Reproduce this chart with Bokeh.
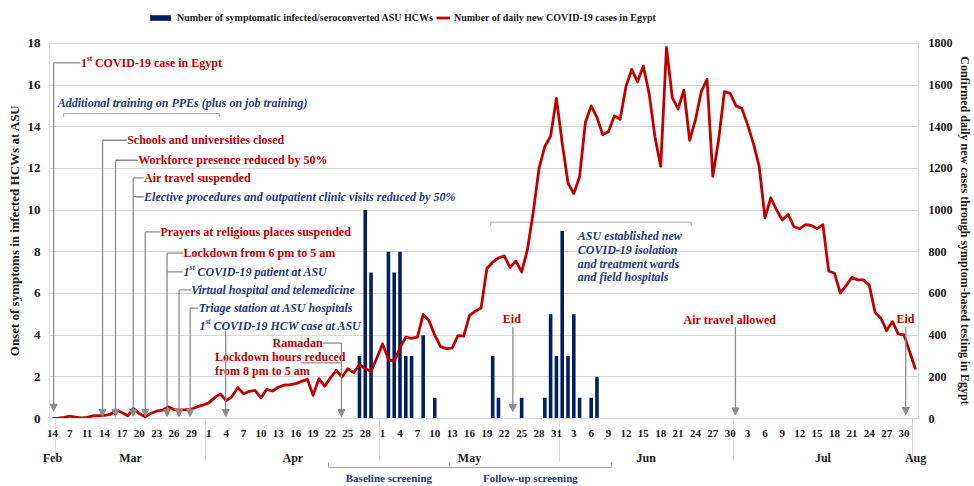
import pandas as pd
from bokeh.plotting import figure
from bokeh.models import (ColumnDataSource, Range1d, LinearAxis, FixedTicker, Legend,
                          LegendItem, Arrow, NormalHead)
from bokeh.core.properties import value
from bokeh.embed import file_html
from bokeh.resources import INLINE

# ---------------- data ----------------
first_dates = ["2020-02-14", "2020-03-01", "2020-03-06", "2020-03-07", "2020-03-08", "2020-03-10"]
daily_dates = pd.date_range("2020-03-11", "2020-08-01").strftime("%Y-%m-%d").tolist()
dates = first_dates + daily_dates

daily_cases = [
    1, 2, 5, 11, 6, 3, 5, 13, 14, 15,
    20, 40, 29, 13, 48, 24, 8, 25, 35, 40,
    56, 43, 41, 42, 44, 56, 65, 75, 100, 118,
    86, 105, 148, 119, 130, 135, 99, 140, 132, 150,
    160, 162, 167, 178, 188, 112, 191, 155, 195, 231,
    199, 239, 220, 258, 240, 226, 290, 358, 285, 272,
    340, 390, 385, 390, 500, 470, 400, 345, 335, 338,
    398, 395, 495, 515, 530, 720, 750, 770, 780, 725,
    756, 703, 810, 990, 1200, 1305, 1355, 1536, 1321, 1130,
    1079, 1160, 1420, 1500, 1445, 1361, 1377, 1452, 1436, 1592,
    1675, 1616, 1691, 1560, 1353, 1210, 1780, 1540, 1485, 1576,
    1335, 1433, 1568, 1627, 1162, 1337, 1568, 1560, 1500, 1488,
    1410, 1320, 1210, 963, 1059, 1000, 952, 979, 920, 911,
    930, 926, 911, 930, 708, 697, 602, 637, 677, 665,
    665, 640, 510, 481, 422, 465, 406, 401, 318, 235,
]

hcw_dates = ["2020-04-27", "2020-04-28", "2020-04-29", "2020-05-02", "2020-05-03", "2020-05-04",
             "2020-05-05", "2020-05-06", "2020-05-08", "2020-05-10", "2020-05-20", "2020-05-21",
             "2020-05-25", "2020-05-29", "2020-05-30", "2020-05-31", "2020-06-01", "2020-06-02",
             "2020-06-03", "2020-06-04", "2020-06-06", "2020-06-07"]
hcw_counts = [3, 10, 7, 8, 7, 8, 3, 3, 4, 1, 3, 1, 1, 1, 5, 3, 9, 3, 5, 1, 1, 2]

month_names = {"02": "Feb", "03": "Mar", "04": "Apr", "05": "May", "06": "Jun", "07": "Jul", "08": "Aug"}
left_ticks = list(range(0, 19, 2))
right_ticks = list(range(0, 1801, 200))

screening_labels = ["Baseline screening", "Follow-up screening"]
screening_dates = [("2020-04-21", "2020-05-13"), ("2020-05-13", "2020-06-09")]

# ---------------- styles ----------------
FONT = "Liberation Serif"
RED = "#C00000"
NAVY = "#1F3A7A"
BAR = "#002060"
GRAY = "#8C8C8C"
LIGHT = "#D9D9D9"
DARK = "#1A1A1A"
NBSP = "\u00a0"

idx = list(range(len(dates)))
pos = {d: i for i, d in enumerate(dates)}

# frame extends above the 18 gridline to host the legend (37 px at 377 px per 18 units)
left_max = left_ticks[-1]
top_extra = left_max * 37 / 377
p = figure(width=974, height=486, output_backend="svg", toolbar_location=None,
           x_range=Range1d(-0.5, len(dates) - 0.5), y_range=Range1d(0, left_max + top_extra),
           min_border_left=49, min_border_right=51, min_border_top=6, min_border_bottom=66)
p.extra_y_ranges = {"cases": Range1d(0, right_ticks[-1] * (left_max + top_extra) / left_max)}
p.outline_line_color = None
p.background_fill_color = "white"

p.xgrid.grid_line_color = None
p.ygrid.ticker = FixedTicker(ticks=left_ticks)
p.ygrid.grid_line_color = LIGHT

# ---------------- annotations (positions in data units) ----------------
ann_text = [
    # x, y, text, color, style, size, align, xoff, yoff
    (4.92, 17.06, "1", RED, "bold", "12px", "left", 0, 0),
    (4.92, 17.06, "st", RED, "bold", "7.5px", "left", 6, -4),
    (4.92, 17.06, "COVID-19 case in Egypt", RED, "bold", "12px", "left", 14, 0),
    (0.91, 15.15, "Additional training on PPEs (plus on job training)", NAVY, "bold italic", "12px", "left", 0, 0),
    (12.91, 13.35, "Schools and universities closed", RED, "bold", "12px", "left", 0, 0),
    (14.8, 12.39, "Workforce presence reduced by 50%", RED, "bold", "12px", "left", 0, 0),
    (15.83, 11.54, "Air travel suspended", RED, "bold", "12px", "left", 0, 0),
    (15.83, 10.64, "Elective procedures and outpatient clinic visits reduced by 50%", NAVY, "bold italic", "12px", "left", 0, 0),
    (18.64, 8.95, "Prayers at religious places suspended", RED, "bold", "12px", "left", 0, 0),
    (22.63, 7.93, "Lockdown from 6 pm to 5 am", RED, "bold", "12px", "left", 0, 0),
    (22.63, 7.03, "1", NAVY, "bold italic", "12px", "left", 0, 0),
    (22.63, 7.03, "st", NAVY, "bold italic", "7.5px", "left", 6, -4),
    (22.63, 7.03, "COVID-19 patient at ASU", NAVY, "bold italic", "12px", "left", 14, 0),
    (23.95, 6.17, "Virtual hospital and telemedicine", NAVY, "bold italic", "12px", "left", 0, 0),
    (25.26, 5.30, "Triage station at ASU hospitals", NAVY, "bold italic", "12px", "left", 0, 0),
    (25.38, 4.46, "1", NAVY, "bold italic", "12px", "left", 0, 0),
    (25.38, 4.46, "st", NAVY, "bold italic", "7.5px", "left", 6, -4),
    (25.38, 4.46, "COVID-19 HCW case at ASU", NAVY, "bold italic", "12px", "left", 14, 0),
    (46.64, 3.62, "Ramadan", RED, "bold", "12px", "right", 0, 0),
    (28.07, 2.95, "Lockdown hours reduced", RED, "bold", "12px", "left", 0, 0),
    (28.07, 2.26, "from 8 pm to 5 am", RED, "bold", "12px", "left", 0, 0),
    (79.3, 4.78, "Eid", RED, "bold", "12px", "center", 0, 0),
    (90.7, 8.75, "ASU established new", NAVY, "bold italic", "12px", "left", 0, 0),
    (90.7, 8.09, "COVID-19 isolation", NAVY, "bold italic", "12px", "left", 0, 0),
    (90.7, 7.40, "and treatment wards", NAVY, "bold italic", "12px", "left", 0, 0),
    (90.7, 6.77, "and field hospitals", NAVY, "bold italic", "12px", "left", 0, 0),
    (116.94, 4.73, "Air travel allowed", RED, "bold", "12px", "center", 0, 0),
    (147.24, 4.78, "Eid", RED, "bold", "12px", "center", 0, 0),
]
# arrows: x, top, tip
arrows = [(0.22, 17.06, 0.35), (8.66, 13.35, 0.1), (10.89, 12.39, 0.1), (13.94, 11.54, 0.1),
          (16.03, 8.95, 0.1), (19.8, 7.93, 0.1), (21.86, 6.17, 0.1), (23.78, 5.30, 0.1),
          (29.92, 4.22, 0.1), (49.9, 3.62, 0.1), (79.47, 4.39, 0.33), (117.9, 4.39, 0.17),
          (147.3, 4.39, 0.19)]
# leader segments: x0, y0, x1, y1
leaders = [(0.22, 17.06, 4.85, 17.06), (8.66, 13.35, 12.85, 13.35), (10.89, 12.39, 14.75, 12.39),
           (13.94, 11.54, 15.78, 11.54), (13.94, 10.64, 15.78, 10.64), (16.03, 8.95, 18.6, 8.95),
           (19.8, 7.93, 22.6, 7.93), (19.8, 7.03, 22.6, 7.03), (21.86, 6.17, 23.9, 6.17),
           (23.78, 5.30, 25.2, 5.30), (46.75, 3.62, 49.9, 3.62), (42.87, 2.67, 49.9, 2.67)]
brackets = [([1.94, 1.94, 28.81, 28.81], [14.47, 14.63, 14.63, 14.47]),
            ([75.67, 75.67, 110.25, 110.25], [9.23, 9.42, 9.42, 9.23])]

p.multi_line(xs=[b[0] for b in brackets], ys=[b[1] for b in brackets], line_color="#A6A6A6", line_width=1)
p.segment(x0=[l[0] for l in leaders], y0=[l[1] for l in leaders], x1=[l[2] for l in leaders],
          y1=[l[3] for l in leaders], line_color=GRAY, line_width=1.3)
arrow_src = ColumnDataSource(dict(x=[a[0] for a in arrows], top=[a[1] for a in arrows], tip=[a[2] for a in arrows]))
p.add_layout(Arrow(end=NormalHead(size=7, fill_color=GRAY, line_color=GRAY, line_width=1),
                   x_start="x", y_start="top", x_end="x", y_end="tip", source=arrow_src,
                   line_color=GRAY, line_width=1.3))

# ---------------- data glyphs ----------------
bars = p.vbar(x=[pos[d] for d in hcw_dates], top=hcw_counts, width=0.62, fill_color=BAR, line_color=None)
line = p.line(x=idx, y=daily_cases, y_range_name="cases", line_color=RED, line_width=2.8,
              line_join="round")

txt_src = ColumnDataSource(dict(
    x=[a[0] for a in ann_text], y=[a[1] for a in ann_text], text=[a[2] for a in ann_text],
    color=[a[3] for a in ann_text], style=[a[4] for a in ann_text], size=[a[5] for a in ann_text],
    align=[a[6] for a in ann_text], xo=[a[7] for a in ann_text], yo=[a[8] for a in ann_text]))
p.text(x="x", y="y", text="text", source=txt_src, text_color="color", text_font=value(FONT),
       text_font_style="style", text_font_size="size", text_align="align", text_baseline="middle",
       x_offset="xo", y_offset="yo")

# ---------------- axes ----------------
def style_labels(ax, size, color=DARK):
    ax.major_label_text_font = FONT
    ax.major_label_text_font_style = "bold"
    ax.major_label_text_font_size = size
    ax.major_label_text_color = color

# axis titles are centred on the 0..18 span (padding keeps them off the legend strip)
yax = p.yaxis[0]
yax.ticker = FixedTicker(ticks=left_ticks)
yax.bounds = (0, left_max)
yax.axis_label = "Onset of symptoms in infected HCWs at ASU" + NBSP * 11
yax.axis_label_text_font = FONT
yax.axis_label_text_font_style = "bold"
yax.axis_label_text_font_size = "13px"
yax.axis_label_text_color = DARK
yax.axis_label_standoff = 3
yax.major_label_standoff = 9
yax.major_tick_out = 0
yax.major_tick_in = 0
yax.minor_tick_out = 0
yax.minor_tick_in = 0
yax.axis_line_color = LIGHT
style_labels(yax, "13px")

rax = LinearAxis(y_range_name="cases", ticker=FixedTicker(ticks=right_ticks), bounds=(0, right_ticks[-1]),
                 axis_label=NBSP * 12 + "Confirmed daily new cases through symptom-based testing in Egypt")
rax.axis_label_text_font = FONT
rax.axis_label_text_font_style = "bold"
rax.axis_label_text_font_size = "12px"
rax.axis_label_text_color = DARK
rax.axis_label_standoff = 2
rax.major_label_standoff = 10
rax.major_tick_out = 0
rax.major_tick_in = 0
rax.minor_tick_out = 0
rax.minor_tick_in = 0
rax.axis_line_color = LIGHT
style_labels(rax, "12px")
p.add_layout(rax, "right")

# day axis with month separators as long minor ticks
day_ticks = idx[::3][:50]
separators = [i + 0.5 for i in range(len(dates) - 1) if dates[i][5:7] != dates[i + 1][5:7]]
xax = p.xaxis[0]
xax.ticker = FixedTicker(ticks=day_ticks, minor_ticks=separators)
xax.major_label_overrides = {t: str(int(dates[t][8:10])) for t in day_ticks}
xax.major_tick_out = 0
xax.major_tick_in = 0
xax.minor_tick_in = 0
xax.minor_tick_out = 43
xax.minor_tick_line_color = LIGHT
xax.axis_line_color = LIGHT
xax.major_label_standoff = -32
style_labels(xax, "11px")

months = []
for m in month_names:
    ids = [i for i, d in enumerate(dates) if d[5:7] == m]
    months.append(((ids[0] + ids[-1]) / 2, month_names[m]))
max_ = LinearAxis(ticker=FixedTicker(ticks=[c for c, _ in months]),
                  major_label_overrides={c: n for c, n in months})
max_.major_tick_out = 0
max_.major_tick_in = 0
max_.minor_tick_out = 0
max_.minor_tick_in = 0
max_.axis_line_color = None
max_.major_label_standoff = 11
style_labels(max_, "12px")
p.add_layout(max_, "below")

bnds = [pos[a] - 0.5 for a, _ in screening_dates] + [pos[screening_dates[-1][1]] + 0.5]
bnds[0] = pos[screening_dates[0][0]] + 0.67
centers = [(bnds[i] + bnds[i + 1]) / 2 for i in range(len(screening_labels))]
bax = LinearAxis(bounds=(bnds[0] - 0.01, bnds[-1] + 0.01),
                 ticker=FixedTicker(ticks=centers, minor_ticks=bnds),
                 major_label_overrides={c: t for c, t in zip(centers, screening_labels)})
bax.major_tick_out = 0
bax.major_tick_in = 0
bax.minor_tick_out = 0
bax.minor_tick_in = 5
bax.minor_tick_line_color = "#A6A6A6"
bax.axis_line_color = "#A6A6A6"
bax.major_label_standoff = 4
style_labels(bax, "11px", NAVY)
p.add_layout(bax, "below")

# ---------------- legends ----------------
common = dict(orientation="horizontal", padding=0, margin=0, border_line_color=None,
              background_fill_alpha=0, label_text_font=FONT, label_text_font_style="bold",
              label_text_font_size="10px", label_text_color=DARK, label_height=12, label_standoff=4)
leg1 = Legend(items=[LegendItem(label="Number of symptomatic infected/seroconverted ASU HCWs", renderers=[bars])],
              location=(98, 395), glyph_width=26, glyph_height=7, **common)
leg2 = Legend(items=[LegendItem(label="Number of daily new COVID-19 cases in Egypt", renderers=[line])],
              location=(387, 395), glyph_width=14, glyph_height=7, **common)
p.add_layout(leg1)
p.add_layout(leg2)

open("out.html", "w").write(file_html(p, INLINE))
